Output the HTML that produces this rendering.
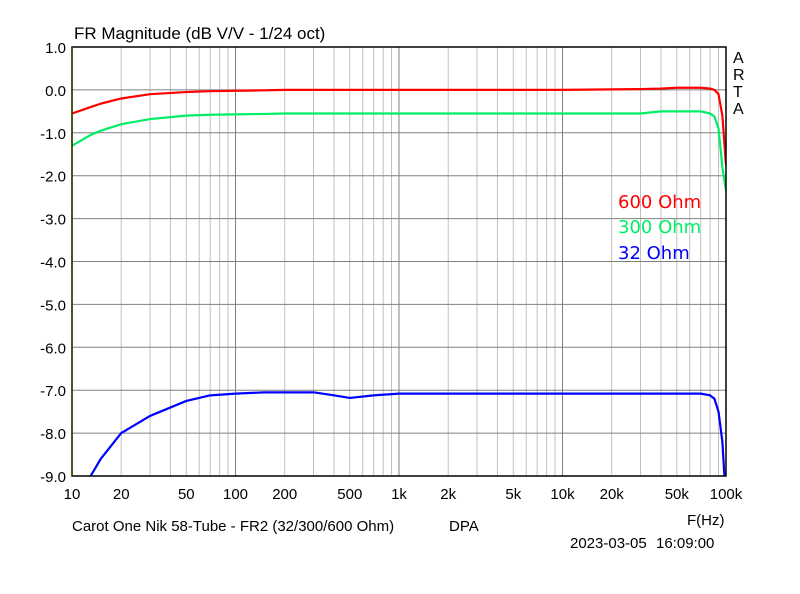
<!DOCTYPE html>
<html><head><meta charset="utf-8"><style>
body{margin:0;background:#fff;width:800px;height:594px;overflow:hidden}
svg{display:block;font-family:"Liberation Sans",sans-serif}
</style></head><body>
<svg id="chart" width="800" height="594">
<rect width="800" height="594" fill="#fff"/>
<g id="grid"></g><g id="series"></g><g id="labels"></g>
<rect x="72" y="47" width="654" height="429" fill="none" stroke="#000" stroke-width="1.5"/>
<line x1="72" y1="47" x2="72" y2="476" stroke="#444400" stroke-width="1.5"/>
<text x="74" y="39" font-size="17">FR Magnitude (dB V/V - 1/24 oct)</text>
<g font-size="16"><text x="733" y="63">A</text><text x="733" y="80">R</text><text x="733" y="97">T</text><text x="733" y="114">A</text></g>
<g font-family="'DejaVu Sans',sans-serif" font-size="18">
<text x="618" y="208" fill="#ff0000">600 Ohm</text>
<text x="618" y="233" fill="#00ee66">300 Ohm</text>
<text x="618" y="259" fill="#0000ff">32 Ohm</text>
</g>
<text x="687" y="525" font-size="15">F(Hz)</text>
<text x="72" y="531" font-size="15">Carot One Nik 58-Tube - FR2 (32/300/600 Ohm)</text>
<text x="449" y="531" font-size="15">DPA</text>
<text x="570" y="548" font-size="15">2023-03-05</text>
<text x="656" y="548" font-size="15">16:09:00</text>
</svg>
<script>
const freqs=[10,13,15,20,30,50,70,100,150,200,300,400,500,700,1000,10000,30000,40000,50000,70000,80000,85000,90000,95000,100000];
const red=[-0.55,-0.4,-0.32,-0.2,-0.1,-0.05,-0.03,-0.02,-0.01,0,0,0,0,0,0,0,0.02,0.03,0.05,0.05,0.03,0,-0.1,-0.6,-1.75];
const green=[-1.3,-1.05,-0.95,-0.8,-0.68,-0.6,-0.58,-0.57,-0.56,-0.55,-0.55,-0.55,-0.55,-0.55,-0.55,-0.55,-0.55,-0.5,-0.5,-0.5,-0.55,-0.62,-0.9,-1.8,-2.35];
const blue=[-9.6,-9.0,-8.6,-8.0,-7.6,-7.25,-7.12,-7.08,-7.05,-7.05,-7.05,-7.12,-7.18,-7.12,-7.08,-7.08,-7.08,-7.08,-7.08,-7.08,-7.12,-7.2,-7.5,-8.2,-9.6];
const yTicks=[1,0,-1,-2,-3,-4,-5,-6,-7,-8,-9];
const xTickVals=[10,20,50,100,200,500,1000,2000,5000,10000,20000,50000,100000];
const xTickLabels=["10","20","50","100","200","500","1k","2k","5k","10k","20k","50k","100k"];
const X0=72,X1=726,Y0=47,Y1=476;
const xs=f=>X0+(Math.log10(f)-1)/4*(X1-X0);
const ys=v=>Y0+(1-v)/10*(Y1-Y0);
const NS="http://www.w3.org/2000/svg";
function mk(t,a,p){const e=document.createElementNS(NS,t);for(const k in a)e.setAttribute(k,a[k]);p.appendChild(e);return e;}
const grid=document.getElementById('grid'),lab=document.getElementById('labels'),ser=document.getElementById('series');
for(let d=10;d<100000;d*=10){for(let m=1;m<10;m++){const f=d*m;const l=mk('line',{x1:xs(f),x2:xs(f),y1:Y0,y2:Y1,stroke:m==1?'#808080':'#c0c0c0','stroke-width':1},grid);

}}
yTicks.forEach(v=>{const l=mk('line',{x1:X0,x2:X1,y1:ys(v),y2:ys(v),stroke:'#808080','stroke-width':1},grid);


const t=mk('text',{x:66,y:ys(v)+6,'text-anchor':'end','font-size':15},lab);t.textContent=v.toFixed(1);

});
xTickVals.forEach((f,i)=>{const t=mk('text',{x:xs(f),y:499,'text-anchor':'middle','font-size':15},lab);t.textContent=xTickLabels[i];

});
mk('clipPath',{id:'cp'},ser).appendChild(document.createElementNS(NS,'rect'));
const cr=ser.querySelector('rect');cr.setAttribute('x',X0);cr.setAttribute('y',Y0);cr.setAttribute('width',X1-X0);cr.setAttribute('height',Y1-Y0);
[[red,'#ff0000','series-600-ohm'],[green,'#00ee66','series-300-ohm'],[blue,'#0000ff','series-32-ohm']].forEach(([d,c,n])=>{
const p=mk('polyline',{points:freqs.map((f,i)=>xs(f)+','+ys(d[i])).join(' '),fill:'none',stroke:c,'stroke-width':2.2,'stroke-linejoin':'round','clip-path':'url(#cp)'},ser);

});
</script>
</body></html>
